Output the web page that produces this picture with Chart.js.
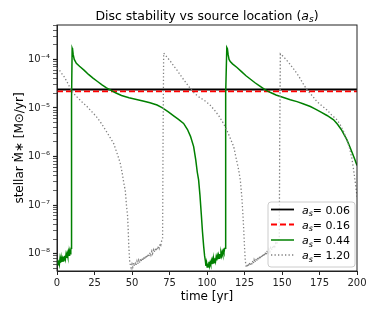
<!DOCTYPE html>
<html>
<head>
<meta charset="utf-8">
<script src="https://cdn.jsdelivr.net/npm/chart.js@4/dist/chart.umd.min.js"></script>
<style>
  html, body { margin: 0; padding: 0; background: #fff; }
  #wrap { width: 374px; height: 312px; }
</style>
</head>
<body>
<div id="wrap"><canvas id="discChart"></canvas></div>
<script>
// accretion rate onto the star, [time (yr), Mdot (Msun/yr)]
const black006 = [[0, 2.4e-5], [200, 2.4e-5]];
const red016 = [[0, 2.2e-5], [200, 2.2e-5]];

const green044 = [
  [0,6.3e-9],[0.4,7.6e-9],[0.8,5.9e-9],[1.2,7.2e-9],[1.6,6.1e-9],[2.0,7.9e-9],[2.4,6.5e-9],[2.8,8.3e-9],
  [3.2,6.8e-9],[3.6,8.0e-9],[4.0,7.1e-9],[4.4,8.8e-9],[4.8,7.4e-9],[5.2,9.1e-9],[5.6,7.8e-9],[6.0,9.6e-9],
  [6.4,8.2e-9],[6.8,1.0e-8],[7.2,8.7e-9],[7.6,1.08e-8],[8.0,9.3e-9],[8.4,1.12e-8],[8.8,1.0e-8],[9.2,1.2e-8],
  [9.4,1.3e-8],[9.6,2e-7],[9.8,1.5e-5],[10.1,1.7e-4],[10.4,1.6e-4],[10.8,1.25e-4],[11.5,1.0e-4],[12.9,8.3e-5],
  [15,7.2e-5],[18,6e-5],[21,4.9e-5],[24,4.1e-5],[27,3.5e-5],[30,3e-5],[33,2.6e-5],[35.5,2.35e-5],
  [39,2.05e-5],[43,1.8e-5],[48,1.62e-5],[53,1.5e-5],[58,1.38e-5],[62,1.28e-5],[66.7,1.15e-5],[70,1.02e-5],
  [74,8.4e-6],[78,6.8e-6],[81,5.8e-6],[84.4,4.8e-6],[87,3.6e-6],[89,2.6e-6],[91.1,1.6e-6],[92.5,8.5e-7],
  [93.5,4.8e-7],[94.4,3.3e-7],[95.3,1.6e-7],[96.2,6.5e-8],[97,2.8e-8],[97.8,1.4e-8],[98.4,9e-9],[98.9,7.2e-9],
  [99.3,5.6e-9],[99.7,6.6e-9],[100.1,5.3e-9],[100.5,6.3e-9],[100.9,5.4e-9],[101.3,6.8e-9],[101.7,5.6e-9],
  [102.1,6.5e-9],[102.5,5.9e-9],[102.9,7.1e-9],[103.3,6.1e-9],[103.7,7.4e-9],[104.1,6.4e-9],[104.5,7.7e-9],
  [104.9,6.7e-9],[105.3,8.1e-9],[105.7,7.0e-9],[106.1,8.5e-9],[106.5,7.3e-9],[106.9,8.9e-9],[107.3,7.7e-9],
  [107.7,9.3e-9],[108.1,8.1e-9],[108.5,9.8e-9],[108.9,8.5e-9],[109.3,1.03e-8],[109.7,9.0e-9],[110.1,1.08e-8],
  [110.5,9.6e-9],[110.9,1.15e-8],[111.3,1.05e-8],[111.7,1.25e-8],[112.0,1.3e-8],[112.3,3e-7],[112.6,2e-5],
  [113.2,1.75e-4],[113.6,1.65e-4],[114.1,1.25e-4],[114.7,1.0e-4],[115.5,9e-5],[117,8.1e-5],[120,6.8e-5],
  [123,5.6e-5],[126,4.6e-5],[129,3.9e-5],[132,3.3e-5],[135,2.85e-5],[138.9,2.35e-5],[142,2.1e-5],[146,1.85e-5],
  [150,1.68e-5],[155.5,1.48e-5],[160,1.35e-5],[164,1.22e-5],[168.9,1.07e-5],[172,9.6e-6],[176,8.2e-6],
  [180,7e-6],[184.4,5.7e-6],[187,4.6e-6],[189.5,3.6e-6],[191.5,2.8e-6],[193.3,2.2e-6],[195,1.65e-6],
  [197,1.15e-6],[198.5,8.8e-7],[200,6.5e-7]
];

const gray120 = [
  [0,6.6e-5],[1.1,6.3e-5],[3,5.2e-5],[5,4.3e-5],[7,3.3e-5],[9,2.5e-5],[11,2.0e-5],[14,1.6e-5],[17,1.3e-5],
  [20,1.07e-5],[23,8.5e-6],[26,6.8e-6],[29,5.1e-6],[31,4.1e-6],[34,2.9e-6],[36,2.3e-6],[37.8,1.85e-6],
  [39.5,1.3e-6],[41,9.5e-7],[42.2,7.2e-7],[43.5,4.5e-7],[44.5,2.9e-7],[45.5,2e-7],[46.3,1.0e-7],[47.1,5.8e-8],
  [47.5,3e-8],[47.8,1.6e-8],[48.4,7.3e-9],[48.9,5.8e-9],
  [49.4,5.1e-9],[50.0,6.1e-9],[50.5,5.3e-9],[51.1,6.5e-9],[51.6,5.5e-9],[52.2,6.3e-9],[52.7,5.8e-9],[53.3,7.0e-9],
  [53.8,6.1e-9],[54.4,7.3e-9],[54.9,6.4e-9],[55.5,7.7e-9],[56.0,6.8e-9],[56.6,8.1e-9],[57.1,7.1e-9],[57.7,8.6e-9],
  [58.2,7.5e-9],[58.8,9.0e-9],[59.3,7.9e-9],[59.9,9.5e-9],[60.4,8.4e-9],[61.0,1.0e-8],[61.5,8.9e-9],[62.1,1.06e-8],
  [62.6,9.4e-9],[63.2,1.12e-8],[63.7,1.0e-8],[64.3,1.19e-8],[64.8,1.06e-8],[65.4,1.27e-8],[65.9,1.13e-8],
  [66.5,1.35e-8],[67.0,1.21e-8],[67.6,1.45e-8],[68.1,1.3e-8],[68.7,1.6e-8],[69.2,1.5e-8],[69.8,1.85e-8],[70.4,2.1e-8],
  [70.7,2e-6],[71.1,1.35e-4],[72,1.25e-4],[74,1.05e-4],[76,8.8e-5],[78,7.2e-5],[80,6e-5],[83,4.4e-5],[86,3.3e-5],
  [88.9,2.5e-5],[92,1.95e-5],[95,1.65e-5],[97.8,1.46e-5],[100,1.3e-5],[102,1.15e-5],[105,9e-6],[108,6.8e-6],
  [111,4.8e-6],[113,3.6e-6],[115,2.6e-6],[117.8,1.6e-6],[119.5,9e-7],[121,5.5e-7],[122.2,3.3e-7],[123.2,1.5e-7],
  [124,6e-8],[124.4,3.5e-8],[125,1.4e-8],[125.5,7.4e-9],[126,5.6e-9],
  [126.5,5.2e-9],[127.0,6.2e-9],[127.6,5.4e-9],[128.1,6.6e-9],[128.7,5.7e-9],[129.2,6.4e-9],[129.8,6.0e-9],
  [130.3,7.1e-9],[130.9,6.2e-9],[131.4,7.5e-9],[132.0,6.6e-9],[132.5,7.9e-9],[133.1,6.9e-9],[133.6,8.3e-9],
  [134.2,7.3e-9],[134.7,8.8e-9],[135.3,7.7e-9],[135.8,9.2e-9],[136.4,8.1e-9],[136.9,9.8e-9],[137.5,8.6e-9],
  [138.0,1.03e-8],[138.6,9.1e-9],[139.1,1.09e-8],[139.7,9.7e-9],[140.2,1.16e-8],[140.8,1.03e-8],[141.3,1.23e-8],
  [141.9,1.1e-8],[142.4,1.31e-8],[143.0,1.17e-8],[143.5,1.4e-8],[144.1,1.27e-8],[144.6,1.52e-8],[145.2,1.4e-8],
  [145.8,1.65e-8],[146.4,1.55e-8],[147.0,1.8e-8],[147.6,1.9e-8],[148.2,2.1e-8],
  [148.5,3e-6],[148.9,1.3e-4],[150,1.22e-4],[152,1.05e-4],[155,8.2e-5],[158,6.2e-5],[161,4.6e-5],[164,3.2e-5],
  [166.7,2.35e-5],[170,1.8e-5],[173.3,1.35e-5],[176.7,1.1e-5],[180,9.1e-6],[183,7.2e-6],[186.7,5.7e-6],
  [189,4.4e-6],[191,3.3e-6],[193,2.3e-6],[195,1.5e-6],[196.5,9.5e-7],[197.8,5.2e-7],[199,2.7e-7],[200,1.5e-7]
];

const legendValues = ["0.06", "0.16", "0.44", "1.20"];
const xTicks = [0, 25, 50, 75, 100, 125, 150, 175, 200];
const titleText = "Disc stability vs source location (";

const FONT = "'DejaVu Sans', sans-serif";
Chart.defaults.font.family = FONT;
Chart.defaults.color = "#222";

const toXY = pts => pts.map(p => ({x: p[0], y: p[1]}));

const supMap = {"-": "\u207B", "0": "\u2070", "1": "\u00B9", "2": "\u00B2", "3": "\u00B3", "4": "\u2074",
  "5": "\u2075", "6": "\u2076", "7": "\u2077", "8": "\u2078", "9": "\u2079"};
const sup = s => String(s).split("").map(c => supMap[c] || c).join("");

const isDecade = v => Math.abs(Math.log10(v) - Math.round(Math.log10(v))) < 1e-9;

const styles = [
  {color: "#000000", width: 1.8, dash: []},
  {color: "#ff0000", width: 1.8, dash: [6, 3]},
  {color: "#008000", width: 1.5, dash: []},
  {color: "#808080", width: 1.3, dash: [1.3, 2.2]}
];

// draws "a" with italic subscript "s", returns new x
function drawAs(ctx, x, y, size) {
  ctx.font = "italic " + size + "px " + FONT;
  ctx.fillText("a", x, y);
  x += ctx.measureText("a").width;
  ctx.font = "italic " + (size * 0.72) + "px " + FONT;
  ctx.fillText("s", x, y + size * 0.23);
  return x + ctx.measureText("s").width;
}

// title, matplotlib-like frame + legend in the lower right
const framePlugin = {
  id: "frame",
  afterDraw(chart) {
    const {ctx, chartArea: a} = chart;
    ctx.save();
    ctx.fillStyle = "#000";
    ctx.textBaseline = "alphabetic";
    ctx.textAlign = "left";
    ctx.font = "12.5px " + FONT;
    const w1 = ctx.measureText(titleText).width;
    const wClose = ctx.measureText(")").width;
    ctx.font = "italic 12.5px " + FONT;
    const wa = ctx.measureText("a").width;
    ctx.font = "italic 9px " + FONT;
    const ws = ctx.measureText("s").width;
    let tx = (a.left + a.right) / 2 - (w1 + wa + ws + wClose) / 2;
    ctx.font = "12.5px " + FONT;
    ctx.fillText(titleText, tx, 19.5);
    tx = drawAs(ctx, tx + w1, 19.5, 12.5);
    ctx.font = "12.5px " + FONT;
    ctx.fillText(")", tx, 19.5);
    ctx.restore();
  },
  afterDatasetsDraw(chart) {
    const {ctx, chartArea: a} = chart;
    ctx.save();
    ctx.strokeStyle = "#222";
    ctx.lineWidth = 1;
    ctx.strokeRect(a.left, a.top, a.right - a.left, a.bottom - a.top);

    const bx = 268, by = 202, bw = 87, bh = 65;
    ctx.beginPath();
    ctx.roundRect(bx, by, bw, bh, 3);
    ctx.fillStyle = "rgba(255,255,255,0.8)";
    ctx.fill();
    ctx.strokeStyle = "#cccccc";
    ctx.stroke();

    const rows = [209.5, 224.5, 240, 255];
    legendValues.forEach((val, i) => {
      const s = styles[i], y = rows[i];
      ctx.beginPath();
      ctx.setLineDash(s.dash);
      ctx.strokeStyle = s.color;
      ctx.lineWidth = s.width;
      ctx.moveTo(271, y);
      ctx.lineTo(294, y);
      ctx.stroke();
      ctx.setLineDash([]);
      ctx.fillStyle = "#000";
      ctx.textBaseline = "alphabetic";
      ctx.textAlign = "left";
      const x = drawAs(ctx, 302, y + 4, 11);
      ctx.font = "11px " + FONT;
      ctx.fillText("= " + val, x, y + 4);
    });
    ctx.restore();
  }
};

const datasets = [black006, red016, green044, gray120].map((pts, i) => ({
  label: "a_s= " + legendValues[i],
  data: toXY(pts),
  borderColor: styles[i].color,
  borderWidth: styles[i].width,
  borderDash: styles[i].dash,
  pointRadius: 0,
  tension: 0,
  fill: false,
  order: 3 - i
}));

new Chart(document.getElementById("discChart"), {
  type: "line",
  data: {datasets},
  options: {
    responsive: true,
    maintainAspectRatio: false,
    animation: false,
    layout: {padding: {left: 0, right: 17, top: 25, bottom: 0}},
    plugins: {
      legend: {display: false},
      tooltip: {enabled: false},
      title: {display: false}
    },
    scales: {
      x: {
        type: "linear",
        min: 0,
        max: 200,
        afterBuildTicks: scale => { scale.ticks = xTicks.map(v => ({value: v})); },
        afterFit: scale => { scale.height = 41; },
        ticks: {font: {size: 10}, color: "#222", padding: 2, maxRotation: 0},
        grid: {drawOnChartArea: false, tickLength: 4, tickColor: "#222"},
        border: {color: "#222"},
        title: {display: true, text: "time [yr]", color: "#000", font: {size: 12}, padding: {top: 0, bottom: 8}}
      },
      y: {
        type: "logarithmic",
        min: 4.4e-9,
        max: 5.1e-4,
        afterBuildTicks: scale => {
          const t = [];
          for (let k = -9; k <= -3; k++) {
            for (let m = 1; m <= 9; m++) {
              const v = m * Math.pow(10, k);
              if (v >= scale.min && v <= scale.max) t.push({value: v});
            }
          }
          scale.ticks = t;
        },
        afterFit: scale => { scale.width = 57; },
        ticks: {
          autoSkip: false,
          font: {size: 10},
          color: "#222",
          padding: 3,
          callback: v => isDecade(v) ? "10" + sup(Math.round(Math.log10(v))) : ""
        },
        grid: {
          drawOnChartArea: false,
          tickLength: 4,
          tickColor: "#222",
          tickWidth: ctx => (ctx.tick && isDecade(ctx.tick.value)) ? 1.2 : 0.7
        },
        border: {color: "#222"},
        title: {display: true, text: "stellar \u1E40\u2217 [M\u2299/yr]", color: "#000", font: {size: 12}, padding: {top: 13, bottom: 0}}
      }
    }
  },
  plugins: [framePlugin]
});
</script>
</body>
</html>
